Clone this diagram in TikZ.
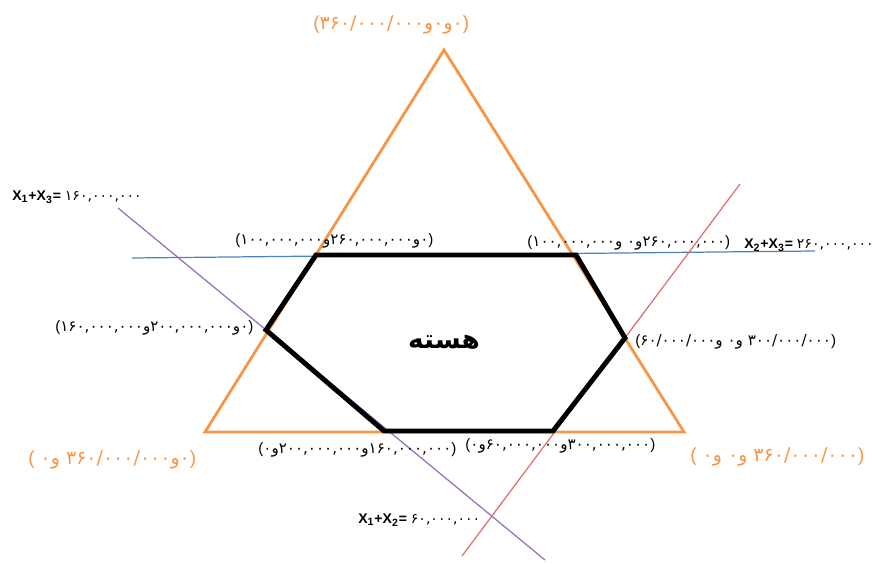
\documentclass[tikz,border=0pt]{standalone}
\usepackage{fontspec}
\setmainfont{Liberation Sans}
\newfontfamily\arabicfont[Script=Arabic]{DejaVu Sans}
\TeXXeTstate=1
\newcommand\wa{\kern0pt و\kern0pt}
\newcommand\opn{{\normalfont(}}
\newcommand\cls{{\normalfont)}}
\definecolor{triorange}{RGB}{247,150,70}
\definecolor{lineblue}{RGB}{79,129,189}
\definecolor{linepurple}{RGB}{150,110,190}
\definecolor{linered}{RGB}{220,110,110}

\tikzset{
  ptlabel/.style={font=\arabicfont\fontsize{8.6}{10}\selectfont, inner sep=0pt, anchor=west},
  cornerlabel/.style={ptlabel, font=\arabicfont\fontsize{10.8}{12}\selectfont, text=triorange},
  cutline/.style={line width=0.7pt},
  eqlabel/.style={font=\fontsize{8}{9}\selectfont, inner sep=0pt, anchor=west},
}

\begin{document}
\begin{tikzpicture}[x=0.02cm,y=-0.02cm]
  \useasboundingbox (0,0) rectangle (874,563);

  % triangle corners
  \coordinate (apex) at (444,50);
  \coordinate (left) at (205,432);
  \coordinate (right) at (684,432);
  \draw[triorange, line width=1.6pt] (apex) -- (left) -- (right) -- cycle;

  % cut lines
  \coordinate (blueA) at (132,258);  \coordinate (blueB) at (815,251);
  \coordinate (purpA) at (118,208);  \coordinate (purpB) at (545,560);
  \coordinate (redA)  at (740,184);  \coordinate (redB)  at (462,556);
  \draw[lineblue,cutline]   (blueA) -- (blueB);
  \draw[linepurple,cutline] (purpA) -- (purpB);
  \draw[linered,cutline]    (redA) -- (redB);

  % core hexagon
  \coordinate (h1) at (316,255);
  \coordinate (h2) at (576,255);
  \coordinate (h3) at (625,338);
  \coordinate (h4) at (553,431);
  \coordinate (h5) at (384,431);
  \coordinate (h6) at (266,330);
  \draw[black, line width=2.8pt] (h1) -- (h2) -- (h3) -- (h4) -- (h5) -- (h6) -- cycle;
  \node[font=\arabicfont\bfseries\fontsize{15}{18}\selectfont] (core) at (444,342) {هسته};

  % corner labels
  \node[cornerlabel] (ltop)   at (313,25)  {\opn۳۶۰/۰۰۰/۰۰۰\wa۰\wa۰\cls};
  \node[cornerlabel] (lleft)  at (28,460)  {\opn{} ۰\wa{} ۳۶۰/۰۰۰/۰۰۰\wa۰\cls};
  \node[cornerlabel] (lright) at (690,457) {\opn{} ۰\wa{} ۰\wa{} ۳۶۰/۰۰۰/۰۰۰\cls};

  % hexagon vertex labels
  \node[ptlabel] (l1) at (235,241) {\opn۱۰۰,۰۰۰,۰۰۰\wa۲۶۰,۰۰۰,۰۰۰\wa۰\cls};
  \node[ptlabel] (l2) at (527,243) {\opn۱۰۰,۰۰۰,۰۰۰\wa{} ۰\wa۲۶۰,۰۰۰,۰۰۰\cls};
  \node[ptlabel] (l3) at (635,342) {\opn۶۰/۰۰۰/۰۰۰\wa{} ۰\wa{} ۳۰۰/۰۰۰/۰۰۰\cls};
  \node[ptlabel] (l4) at (465,446) {\opn۰\wa۶۰,۰۰۰,۰۰۰\wa۳۰۰,۰۰۰,۰۰۰\cls};
  \node[ptlabel] (l5) at (258,450) {\opn۰\wa۲۰۰,۰۰۰,۰۰۰\wa۱۶۰,۰۰۰,۰۰۰\cls};
  \node[ptlabel] (l6) at (55,328)  {\opn۱۶۰,۰۰۰,۰۰۰\wa۲۰۰,۰۰۰,۰۰۰\wa۰\cls};

  % line equations
  \node[eqlabel] (eq13) at (12,197)  {\textbf{X\textsubscript{1}+X\textsubscript{3}=} {\arabicfont ۱۶۰,۰۰۰,۰۰۰}};
  \node[eqlabel] (eq23) at (744,245) {\textbf{X\textsubscript{2}+X\textsubscript{3}=} {\arabicfont ۲۶۰,۰۰۰,۰۰۰}};
  \node[eqlabel] (eq12) at (358,520) {\textbf{X\textsubscript{1}+X\textsubscript{2}=} {\arabicfont ۶۰,۰۰۰,۰۰۰}};
\end{tikzpicture}
\end{document}
